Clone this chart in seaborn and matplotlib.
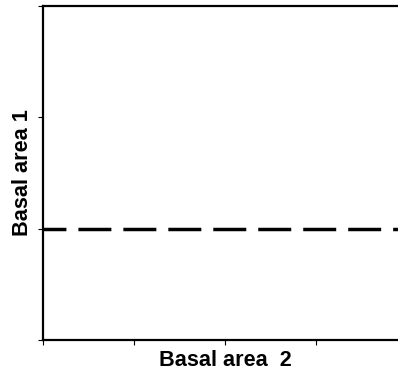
import matplotlib
matplotlib.use("Agg")
import matplotlib.pyplot as plt
import seaborn as sns
import pandas as pd

# data
line_x = [0, 4]
line_y = [0, 0]
y_ticks = [-1, 0, 1, 2]
x_ticks = [0, 1, 2, 3, 4]

sns.set_style("white")
plt.rcParams['font.family'] = ['Liberation Sans', 'DejaVu Sans']

fig = plt.figure(figsize=(3.98, 3.72), dpi=100)
ax = fig.add_axes([43 / 398, 32 / 372, 364 / 398, 334 / 372])

df = pd.DataFrame({"x": line_x, "y": line_y})
sns.lineplot(data=df, x="x", y="y", ax=ax, color="black", linewidth=2.5)
ax.lines[0].set_linestyle((2.9, (9.5, 3.45)))

ax.set_xlim(0, 4)
ax.set_ylim(-1, 2)
ax.set_xticks(x_ticks)
ax.set_xticklabels([])
ax.set_yticks(y_ticks)
ax.set_yticklabels([])

ax.set_xlabel("Basal area  2", fontsize=15.6, fontweight="bold", color="black", labelpad=1.5)
ax.set_ylabel("Basal area 1", fontsize=15.6, fontweight="bold", color="black", labelpad=1.5)

for side in ["left", "bottom", "top"]:
    ax.spines[side].set_visible(True)
    ax.spines[side].set_color("black")
    ax.spines[side].set_linewidth(1.6)
ax.spines["right"].set_visible(False)

ax.tick_params(axis="both", direction="out", length=3.5, width=0.8, color="black",
               bottom=True, left=True, top=False, right=False, pad=2)

fig.savefig("out.png", dpi=100)
